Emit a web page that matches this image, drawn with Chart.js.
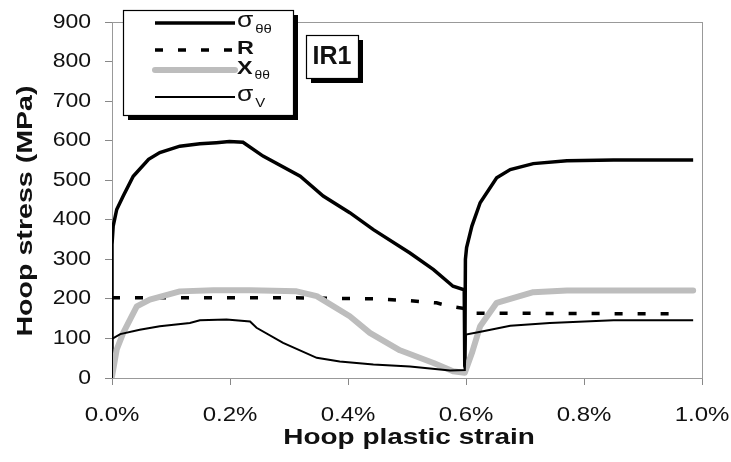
<!DOCTYPE html>
<html>
<head>
  <title>Hoop stress vs hoop plastic strain (IR1)</title>
  <script src="https://cdn.jsdelivr.net/npm/chart.js"></script>
  <style>
    body { margin: 0; background: #fff; }
    #wrap { position: relative; width: 731px; height: 462px; }
  </style>
</head>
<body>
  <div id="wrap"><canvas id="chart" width="731" height="462"></canvas></div>
  <script>
    // strain in %, stress in MPa
    const sigmaStrain = [0, 0, 0.002, 0.008, 0.019, 0.036, 0.062, 0.081, 0.115, 0.149, 0.177, 0.199, 0.222, 0.256, 0.319, 0.358, 0.403, 0.443, 0.505, 0.545, 0.578, 0.597, 0.598, 0.599, 0.601, 0.610, 0.624, 0.652, 0.675, 0.714, 0.771, 0.850, 0.985];
    const sigmaStress = [0, 337, 384, 426, 460, 510, 553, 570, 586, 592, 595, 598, 596, 561, 510, 460, 418, 375, 316, 274, 232, 223, 18, 300, 330, 384, 443, 506, 527, 542, 549, 551, 551];

    const rStrain = [0, 0.30, 0.45, 0.50, 0.55, 0.57, 0.595, 0.60, 0.968];
    const rStress = [203, 203, 200, 196, 190, 182, 176, 164, 162];

    const xStrain = [0, 0.008, 0.019, 0.042, 0.064, 0.115, 0.172, 0.234, 0.313, 0.347, 0.403, 0.437, 0.488, 0.545, 0.578, 0.598, 0.610, 0.624, 0.652, 0.714, 0.771, 0.985];
    const xStress = [4, 72, 114, 181, 198, 219, 222, 222, 219, 207, 156, 114, 70, 38, 17, 13, 63, 131, 190, 217, 221, 221];

    const vStrain = [0, 0, 0.014, 0.047, 0.081, 0.132, 0.149, 0.194, 0.234, 0.245, 0.290, 0.347, 0.386, 0.443, 0.505, 0.573, 0.598, 0.600, 0.629, 0.675, 0.742, 0.850, 0.985];
    const vStress = [0, 99, 111, 122, 131, 139, 146, 148, 143, 127, 89, 51, 42, 34, 29, 19, 20, 110, 118, 132, 139, 146, 146];

    const xTicks = [0, 0.2, 0.4, 0.6, 0.8, 1.0];
    const yTicks = [0, 100, 200, 300, 400, 500, 600, 700, 800, 900];

    function pts(xs, ys) { return xs.map((x, i) => ({ x: x, y: ys[i] })); }

    const FONT = "'Liberation Sans', Arial, sans-serif";
    const INK = '#111';

    // the original's lettering is a bit wider than plain Arial, so stretch it
    function wideText(c, txt, x, y, font, sx, align, rot) {
      c.save();
      c.translate(x, y);
      if (rot) c.rotate(rot);
      c.scale(sx, 1);
      c.font = font;
      c.fillStyle = INK;
      c.textAlign = align;
      c.textBaseline = 'middle';
      c.fillText(txt, 0, 0);
      c.restore();
    }

    function box(c, x, y, w, h) {
      c.fillStyle = '#000';
      c.fillRect(x + 5, y + 5, w, h);
      c.fillStyle = '#fff';
      c.fillRect(x, y, w, h);
      c.strokeStyle = '#000';
      c.lineWidth = 1.2;
      c.strokeRect(x + 0.5, y + 0.5, w, h);
    }

    const decor = {
      id: 'decor',
      beforeDatasetsDraw(chart) {
        const a = chart.chartArea, c = chart.ctx;
        c.save();
        c.strokeStyle = '#999';
        c.lineWidth = 1;
        c.strokeRect(a.left + 0.5, a.top + 0.5, a.right - a.left, a.bottom - a.top);
        c.restore();
      },
      afterDraw(chart) {
        const c = chart.ctx, sx = chart.scales.x, sy = chart.scales.y;
        // tick labels + axis titles
        sx.ticks.forEach(t => wideText(c, t.value.toFixed(1) + '%', sx.getPixelForValue(t.value), 415, '20px ' + FONT, 1.2, 'center'));
        sy.ticks.forEach(t => wideText(c, String(t.value), 91, sy.getPixelForValue(t.value), '20px ' + FONT, 1.15, 'right'));
        wideText(c, 'Hoop plastic strain', 409, 438, 'bold 22px ' + FONT, 1.27, 'center');
        wideText(c, 'Hoop stress (MPa)', 26, 211, 'bold 22px ' + FONT, 1.3, 'center', -Math.PI / 2);

        c.save();
        // legend box
        box(c, 123, 10, 170, 105);
        const items = [
          { y: 23, w: 3.5, col: '#000', dash: [], main: 'σ', sub: 'θθ', bold: false },
          { y: 50, w: 3.5, col: '#000', dash: [8, 15], main: 'R', sub: '', bold: true },
          { y: 70, w: 6, col: '#bdbdbd', dash: [], main: 'X', sub: 'θθ', bold: true },
          { y: 97, w: 2, col: '#000', dash: [], main: 'σ', sub: 'V', bold: false }
        ];
        items.forEach(it => {
          c.beginPath();
          c.strokeStyle = it.col;
          c.lineWidth = it.w;
          c.lineCap = it.w > 5 ? 'round' : 'butt';
          c.setLineDash(it.dash);
          c.moveTo(155, it.y);
          c.lineTo(235, it.y);
          c.stroke();
          c.setLineDash([]);
          const mainFont = (it.bold ? 'bold 18px ' : '22px ') + FONT;
          const stretch = it.bold ? 1.3 : 1.2;
          wideText(c, it.main, 237, it.y - (it.bold ? 1 : 2), mainFont, stretch, 'left');
          c.font = mainFont;
          const mw = c.measureText(it.main).width * stretch;
          wideText(c, it.sub, 239 + mw, it.y + 6, (it.bold ? '12px ' : '13px ') + FONT, 1.15, 'left');
        });
        // IR1 tag
        box(c, 306, 35, 52, 43);
        wideText(c, 'IR1', 332, 57, 'bold 25px ' + FONT, 1, 'center');
        c.restore();
      }
    };

    const common = { showLine: true, pointRadius: 0, fill: false, tension: 0 };

    new Chart(document.getElementById('chart'), {
      type: 'scatter',
      data: {
        datasets: [
          Object.assign({ label: 'sigma_V', data: pts(vStrain, vStress), borderColor: '#000', borderWidth: 2 }, common),
          Object.assign({ label: 'X', data: pts(xStrain, xStress), borderColor: '#bdbdbd', borderWidth: 6, borderCapStyle: 'round', borderJoinStyle: 'round' }, common),
          Object.assign({ label: 'R', data: pts(rStrain, rStress), borderColor: '#000', borderWidth: 3.5, borderDash: [8, 15] }, common),
          Object.assign({ label: 'sigma', data: pts(sigmaStrain, sigmaStress), borderColor: '#000', borderWidth: 3.5 }, common)
        ]
      },
      options: {
        responsive: false,
        animation: false,
        layout: { padding: { top: 22, right: 29, left: 0, bottom: 0 } },
        plugins: { legend: { display: false }, tooltip: { enabled: false } },
        scales: {
          x: {
            type: 'linear', min: 0, max: 1.0,
            afterBuildTicks: s => { s.ticks = xTicks.map(v => ({ value: v })); },
            afterFit: s => { s.height = 84; },
            ticks: { display: false },
            grid: { drawOnChartArea: false, tickLength: 7, color: '#888' },
            border: { color: '#888' }
          },
          y: {
            min: 0, max: 900,
            afterBuildTicks: s => { s.ticks = yTicks.map(v => ({ value: v })); },
            afterFit: s => { s.width = 112; },
            ticks: { display: false },
            grid: { drawOnChartArea: false, tickLength: 7, color: '#888' },
            border: { color: '#888' }
          }
        }
      },
      plugins: [decor]
    });
  </script>
</body>
</html>
